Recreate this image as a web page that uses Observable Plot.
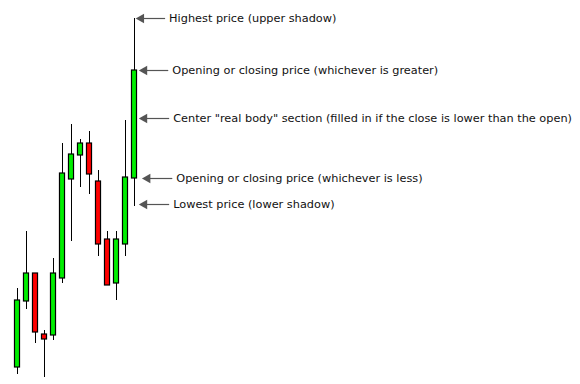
<!DOCTYPE html>
<html><head><meta charset="utf-8">
<script src="https://cdn.jsdelivr.net/npm/d3@7"></script>
<script src="https://cdn.jsdelivr.net/npm/@observablehq/plot@0.6"></script>
<style>body{margin:0;background:#fff}</style>
</head><body><div id="chart"></div>
<script>
const opens  = [17, 83, 111, 50, 49, 106, 205, 229, 241, 203, 145, 101, 140, 206];
const closes = [84, 111, 52, 45, 111, 211, 230, 241, 210, 140, 99, 145, 207, 314];
const highs  = [96, 153, 111, 54, 126, 241, 260, 245, 253, 214, 153, 153, 264, 366];
const lows   = [10, 75, 41, 7, 44, 101, 143, 197, 190, 128, 99, 84, 128, 178];
const labels = [
  "Highest price (upper shadow)",
  "Opening or closing price (whichever is greater)",
  "Center \"real body\" section (filled in if the close is lower than the open)",
  "Opening or closing price (whichever is less)",
  "Lowest price (lower shadow)"
];

const candles = opens.map((o, i) => ({
  i, open: o, close: closes[i], high: highs[i], low: lows[i],
  lo: Math.min(o, closes[i]), hi: Math.max(o, closes[i]),
  up: closes[i] >= o
}));
const last = candles[candles.length - 1];
const notes = [
  {y: last.high, label: labels[0], gap: 0.4, len: 3.0},
  {y: last.hi,   label: labels[1], gap: 0.75, len: 3.0},
  {y: (last.hi + last.lo) / 2 + 6, label: labels[2], gap: 0.75, len: 3.1},
  {y: last.lo,   label: labels[3], gap: 1.1, len: 3.1},
  {y: last.low + 2, label: labels[4], gap: 0.75, len: 3.1}
].map(d => ({...d, x1: last.i + d.gap, x2: last.i + d.gap + d.len}));

const chart = Plot.plot({
  width: 580, height: 384,
  marginLeft: 17, marginRight: 446, marginTop: 0, marginBottom: 0,
  x: {domain: [0, 13], axis: null},
  y: {domain: [0, 384], axis: null},
  style: {fontFamily: "DejaVu Sans", background: "#fff"},
  marks: [
    Plot.ruleX(candles, {x: "i", y1: "low", y2: "high", stroke: "#000", strokeWidth: 1}),
    Plot.rect(candles, {x1: d => d.i - 0.28, x2: d => d.i + 0.28, y1: "lo", y2: "hi",
      fill: d => d.up ? "#00ee00" : "#ff0000", stroke: "#000", strokeWidth: 1.2}),
    Plot.link(notes, {x1: "x1", x2: "x2", y1: "y", y2: "y", stroke: "#555", strokeWidth: 1.2}),
    Plot.dot(notes, {x: d => d.x1 + 0.35, y: "y", symbol: "triangle", rotate: -90, r: 3.6, fill: "#555", stroke: "none"}),
    Plot.text(notes, {x: "x2", y: "y", text: "label", textAnchor: "start", dx: 4, fontSize: 11.3, fill: "#111"})
  ]
});
document.getElementById("chart").appendChild(chart);
</script></body></html>
